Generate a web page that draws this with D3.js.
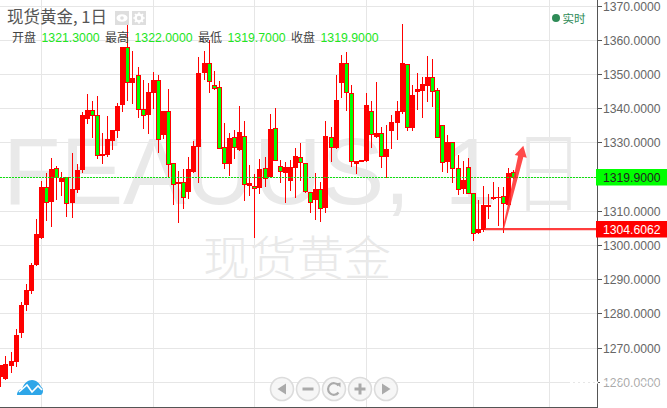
<!DOCTYPE html>
<html><head><meta charset="utf-8">
<style>html,body{margin:0;padding:0;background:#fff}svg{display:block}
text{font-family:"Liberation Sans",Arial,sans-serif}
.cjk{font-family:"Noto Sans CJK SC","Liberation Sans",sans-serif}</style>
<script src="https://cdn.jsdelivr.net/npm/d3@7"></script></head>
<body><svg id="c" width="667" height="408"></svg>
<script>
const opens=[1261.4,1260.8,1264.6,1265.8,1274.3,1282.4,1286.6,1294.1,1302.1,1316.8,1312.6,1322.4,1318.4,1319.9,1312.2,1316.0,1321.9,1336.9,1339.4,1337.9,1326.1,1326.3,1330.5,1333.4,1340.9,1357.8,1347.4,1349.6,1339.6,1338.0,1344.3,1348.2,1332.1,1339.1,1323.9,1317.7,1318.5,1315.6,1321.4,1328.7,1350.2,1353.1,1346.7,1346.1,1328.7,1323.7,1331.6,1327.7,1331.9,1317.3,1317.3,1316.5,1322.4,1319.8,1334.1,1323.2,1321.1,1318.8,1322.4,1325.8,1324.0,1315.6,1313.1,1316.3,1310.7,1331.6,1328.2,1347.2,1353.1,1344.3,1323.6,1324.8,1324.5,1339.1,1331.6,1332.6,1325.8,1333.4,1335.7,1338.9,1352.8,1334.1,1344.8,1345.1,1346.5,1349.0,1345.2,1335.0,1324.1,1330.0,1322.4,1316.3,1322.7,1315.1,1303.4,1304.3,1311.2,1314.1,1313.6,1314.2,1311.7,1321.3];
const closes=[1264.9,1265.1,1266.0,1273.7,1282.4,1286.8,1294.1,1303.2,1316.8,1312.5,1322.2,1319.8,1319.6,1312.2,1316.3,1321.9,1338.0,1339.4,1337.9,1326.3,1326.6,1330.9,1333.6,1340.6,1357.8,1347.5,1348.8,1339.6,1337.9,1344.7,1348.2,1330.9,1339.1,1323.6,1317.7,1318.5,1313.9,1322.2,1328.9,1350.2,1353.1,1348.0,1346.0,1328.4,1323.9,1331.2,1328.7,1332.9,1317.7,1318.0,1316.5,1322.2,1319.5,1333.9,1324.8,1321.6,1322.9,1322.9,1326.0,1324.1,1315.8,1312.5,1316.3,1310.7,1331.8,1328.5,1342.4,1353.1,1344.6,1324.5,1324.5,1324.6,1340.9,1332.3,1332.6,1326.1,1328.0,1335.8,1339.1,1353.1,1334.4,1343.8,1345.6,1347.0,1349.0,1345.1,1331.6,1324.3,1330.0,1322.6,1316.3,1319.0,1315.1,1303.4,1304.6,1311.7,1311.7,1313.6,1314.1,1312.2,1320.9,1319.9];
const highs=[1264.9,1267.5,1268.8,1275.4,1283.3,1288.6,1294.7,1307.6,1318.8,1321.0,1325.4,1323.1,1321.4,1319.9,1326.9,1323.7,1338.9,1344.1,1342.2,1343.5,1332.6,1337.7,1333.6,1341.5,1357.8,1365.8,1356.8,1352.1,1348.2,1347.3,1350.6,1349.7,1339.1,1345.6,1323.9,1321.7,1322.2,1325.8,1330.4,1355.0,1356.8,1359.9,1350.8,1347.9,1335.6,1332.7,1333.6,1340.5,1336.2,1323.4,1320.7,1325.0,1325.7,1338.3,1339.9,1324.8,1324.3,1324.8,1328.4,1329.7,1324.0,1315.6,1321.0,1318.5,1336.2,1334.6,1349.7,1355.5,1356.3,1346.8,1324.5,1324.8,1344.3,1342.2,1347.5,1334.6,1335.1,1338.0,1342.1,1364.6,1352.8,1346.8,1350.2,1349.2,1355.2,1354.3,1345.8,1335.1,1332.1,1330.0,1326.3,1324.5,1325.3,1315.1,1313.1,1317.3,1314.9,1318.5,1317.0,1316.8,1322.4,1322.0];
const lows=[1258.8,1260.8,1262.9,1264.7,1273.2,1281.0,1285.9,1294.1,1302.1,1307.3,1305.5,1313.4,1314.6,1308.4,1308.2,1315.5,1321.2,1335.7,1331.6,1325.3,1324.0,1326.0,1328.0,1331.5,1339.2,1342.4,1341.5,1337.5,1334.1,1332.7,1339.9,1327.2,1331.3,1319.9,1312.0,1306.8,1310.7,1313.8,1321.4,1318.5,1348.4,1344.8,1345.6,1328.2,1322.4,1320.4,1325.5,1327.7,1313.1,1314.6,1302.4,1315.1,1317.3,1319.8,1324.8,1318.5,1312.6,1316.0,1314.1,1319.0,1315.6,1309.5,1307.6,1307.1,1309.5,1324.6,1328.2,1343.3,1339.4,1323.2,1321.1,1324.6,1324.5,1328.7,1331.6,1322.7,1319.9,1328.2,1331.0,1338.6,1333.6,1333.6,1339.7,1337.5,1342.2,1340.6,1331.6,1321.6,1321.4,1318.4,1314.9,1315.2,1315.1,1301.4,1303.4,1304.1,1307.9,1313.4,1305.8,1303.9,1311.7,1319.7];
const yTicks=[1370,1360,1350,1340,1330,1320,1310,1300,1290,1280,1270,1260];
const gridIndex=[8,30,50,72,93,108];
const ohlcLabels=["开盘","最高","最低","收盘"];
const ohlcValues=["1321.3000","1322.0000","1319.7000","1319.9000"];
const lastPrice=1319.9, linePrice=1304.6062, arrowTipPrice=1329;

const RED="#ff0000",GREEN="#00ff00",GRID="#e6e6e6",AX="#555";
const svg=d3.select("#c");
const x=d3.scaleLinear().domain([0,101]).range([0.4,513.4]);
const y=d3.scaleLinear().domain([1260,1370]).range([381.7,5.5]);
const fmt=d3.format(".4f");
const px=v=>Math.round(x(v));
const py=v=>Math.round(y(v));
const W=597;

// grid
const grid=svg.append("g");
grid.selectAll(".h").data(yTicks).join("line").attr("x1",0).attr("x2",W)
 .attr("y1",d=>py(d)+.5).attr("y2",d=>py(d)+.5).attr("stroke",GRID);
grid.selectAll(".v").data(gridIndex).join("line").attr("y1",0).attr("y2",407)
 .attr("x1",d=>px(d)+.5).attr("x2",d=>px(d)+.5).attr("stroke",GRID);

// watermark
const wm=svg.append("g").attr("fill","#e9e9e9");
wm.append("text").attr("x",3).attr("y",204).attr("font-size",94).text("FEAUUS,");
wm.append("text").attr("x",444.5).attr("y",204).attr("font-size",94).text("1");
wm.append("text").attr("class","cjk").attr("transform","translate(513,204) scale(.88,1.1)").attr("font-size",80).attr("font-weight",300).text("日");
wm.append("text").attr("class","cjk").attr("x",203).attr("y",275).attr("font-size",47).attr("font-weight",300).text("现货黄金");

// candles
const idx=d3.range(opens.length);
const cg=svg.append("g");
cg.selectAll(".w").data(idx).join("line")
 .attr("x1",i=>px(i)+.5).attr("x2",i=>px(i)+.5)
 .attr("y1",i=>py(highs[i])).attr("y2",i=>py(lows[i])+1).attr("stroke",RED);
cg.selectAll(".b").data(idx).join("rect")
 .each(function(i){
   const up=closes[i]>=opens[i];
   const t=py(Math.max(opens[i],closes[i])),b=py(Math.min(opens[i],closes[i]));
   const s=d3.select(this);
   if(up){s.attr("x",px(i)-2).attr("width",5).attr("y",t).attr("height",Math.max(b-t,1)).attr("fill",RED);}
   else{s.attr("x",px(i)-1.5).attr("width",4).attr("y",t+.5).attr("height",Math.max(b-t,1)).attr("fill",GREEN).attr("stroke",RED);}
 });

// last price line
svg.append("line").attr("x1",0).attr("x2",W).attr("y1",py(lastPrice)+.5).attr("y2",py(lastPrice)+.5)
 .attr("stroke","#10e010").attr("stroke-dasharray","2 1");

// support line and arrow
const aX=x(99),aY=y(linePrice),tX=x(102.95),tY=y(arrowTipPrice);
const ang=Math.atan2(tY-aY,tX-aX),ux=Math.cos(ang),uy=Math.sin(ang),nx=-uy,ny=ux;
const len=Math.hypot(tX-aX,tY-aY),hl=11;
const pt=(d,o)=>[aX+ux*d+nx*o,aY+uy*d+ny*o];
svg.append("line").attr("x1",x(95.4)).attr("x2",W-1).attr("y1",aY).attr("y2",aY)
 .attr("stroke","#ff2a2a").attr("stroke-width",2.2).attr("opacity",.9);
svg.append("polygon").attr("fill","#ff2a2a").attr("opacity",.85)
 .attr("points",[pt(0,-.7),pt(len-hl,-2.7),pt(len-hl,-6.2),pt(len,0),pt(len-hl,6.2),pt(len-hl,2.7),pt(0,.7)].map(p=>p.join(",")).join(" "));

// axes
svg.append("line").attr("x1",W+.5).attr("x2",W+.5).attr("y1",0).attr("y2",407).attr("stroke",AX);
svg.append("line").attr("x1",0).attr("x2",W+1).attr("y1",407.5).attr("y2",407.5).attr("stroke",AX);
const tk=svg.append("g");
tk.selectAll("line").data(yTicks).join("line").attr("x1",W).attr("x2",W+5)
 .attr("y1",d=>py(d)+.5).attr("y2",d=>py(d)+.5).attr("stroke",AX);
tk.selectAll("text").data(yTicks).join("text").attr("x",603).attr("y",d=>py(d)+4.5)
 .attr("font-size",12.2).attr("fill","#666").attr("opacity",d=>d===1260?.55:1).text(d=>fmt(d));
svg.append("line").attr("x1",570).attr("x2",662).attr("y1",py(1260)+.5).attr("y2",py(1260)+.5)
 .attr("stroke","#fff").attr("stroke-width",2).attr("stroke-dasharray","3 2");

// price labels
const tag=(v,bg,fg)=>{
 const c=py(v);
 svg.append("rect").attr("x",W-1).attr("y",c-8).attr("width",71).attr("height",16.5).attr("fill",bg);
 svg.append("text").attr("x",603).attr("y",c+5).attr("font-size",12.2).attr("fill",fg).text(fmt(v));
};
tag(lastPrice,GREEN,"#222");
tag(linePrice,"#ff0000","#fff");

// title and OHLC row
svg.append("text").attr("class","cjk").attr("x",7).attr("y",23).attr("font-size",16.5).attr("fill","#555").text("现货黄金, 1日");
const labelX=[12,105,198,291], valX=[41.5,134.5,227.5,320.5];
svg.append("g").selectAll("text").data(ohlcLabels).join("text").attr("class","cjk")
 .attr("x",(d,i)=>labelX[i]).attr("y",42).attr("font-size",12).attr("fill","#444").text(d=>d);
svg.append("g").selectAll("text").data(ohlcValues).join("text")
 .attr("x",(d,i)=>valX[i]).attr("y",42).attr("font-size",12.3).attr("fill","#22e622").text(d=>d);

// header icons
const ic=svg.append("g");
ic.append("rect").attr("x",115).attr("y",11).attr("width",14).attr("height",14).attr("fill","#dedede");
ic.append("rect").attr("x",132).attr("y",11).attr("width",14).attr("height",14).attr("fill","#dedede");
ic.append("ellipse").attr("cx",122).attr("cy",18).attr("rx",5.5).attr("ry",3.8).attr("fill","#fff");
ic.append("circle").attr("cx",122).attr("cy",18).attr("r",1.8).attr("fill","#dedede");
ic.append("circle").attr("cx",139).attr("cy",18).attr("r",3.4).attr("fill","none").attr("stroke","#fff").attr("stroke-width",2.4);
d3.range(8).forEach(k=>ic.append("line").attr("x1",139).attr("y1",12.3).attr("x2",139).attr("y2",14)
 .attr("stroke","#fff").attr("stroke-width",1.6).attr("transform",`rotate(${k*45} 139 18)`));

// realtime flag
svg.append("circle").attr("cx",556).attr("cy",18).attr("r",4).attr("fill","#2e8b57");
svg.append("text").attr("class","cjk").attr("x",562.5).attr("y",22.5).attr("font-size",11.5).attr("fill","#2e8b57").text("实时");

// logo
const lg=svg.append("g").attr("transform","translate(17,380)");
lg.append("path").attr("fill","#2ea6e8")
 .attr("d","M0 15 C0 11 3 9 5 9 C7 3 11 0 15 0 C20 0 23 4 24 7 C26 8 25.5 8 26 11 C26 13 25 15 23 15 Z");
lg.append("path").attr("fill","none").attr("stroke","#fff").attr("stroke-width",1.6)
 .attr("d","M2 12 L10 5 L15 12 L21 6 L25 10");

// navigation buttons
const navX=[282,308,334,360,386], navY=389;
const nav=svg.append("g").selectAll("g").data(navX).join("g").attr("transform",d=>`translate(${d},${navY})`);
nav.append("circle").attr("r",11.5).attr("fill","#f4f4f4").attr("fill-opacity",.85).attr("stroke","#dcdcdc").attr("stroke-width",1.6);
const g="#aaa";
const n=nav.nodes().map(e=>d3.select(e));
n[0].append("path").attr("d","M4 -5.5V5.5L-4.5 0Z").attr("fill",g);
n[1].append("rect").attr("x",-5.5).attr("y",-1.5).attr("width",11).attr("height",3).attr("fill",g);
n[2].append("path").attr("d","M4.5 -3.5A5.8 5.8 0 1 0 4.5 3.5").attr("fill","none").attr("stroke",g).attr("stroke-width",2.2);
n[2].append("path").attr("d","M2.5 -5.5L6.5 -6.5V-1.5Z").attr("fill",g);
n[3].append("path").attr("d","M-5.5 -1.5H-1.5V-5.5H1.5V-1.5H5.5V1.5H1.5V5.5H-1.5V1.5H-5.5Z").attr("fill",g);
n[4].append("path").attr("d","M-4 -5.5V5.5L4.5 0Z").attr("fill",g);
</script></body></html>
